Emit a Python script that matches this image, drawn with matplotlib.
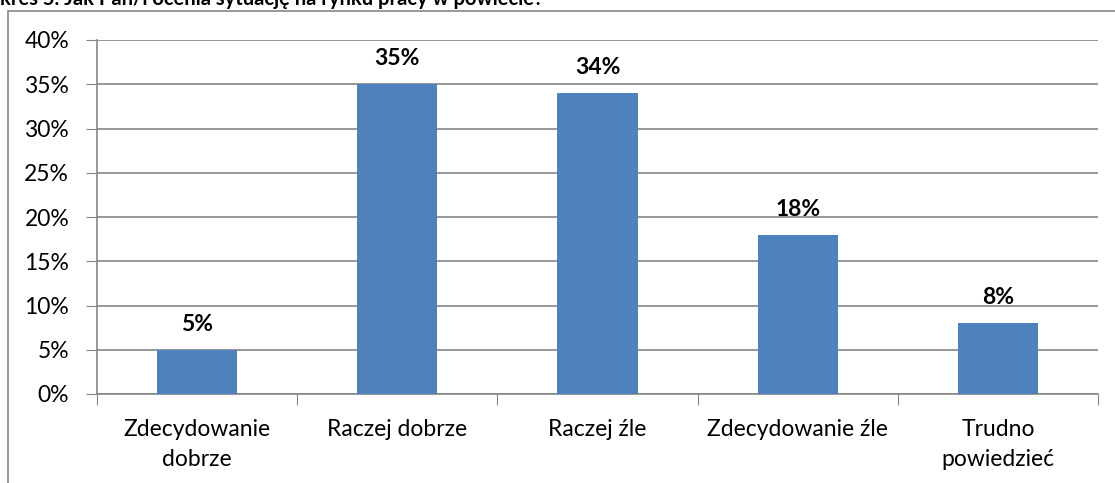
import matplotlib
matplotlib.use("Agg")
import matplotlib.pyplot as plt
from matplotlib.patches import Rectangle
from matplotlib.ticker import MultipleLocator, FuncFormatter

categories = ["Zdecydowanie\ndobrze", "Raczej dobrze", "Raczej źle", "Zdecydowanie źle", "Trudno\npowiedzieć"]
values = [5, 35, 34, 18, 8]
title = "kres 5. Jak Pan/i ocenia sytuację na rynku pracy w powiecie?"

plt.rcParams['font.family'] = ['Lato', 'DejaVu Sans']

W, H = 1115, 483
FS = 16.5
fig = plt.figure(figsize=(W / 100, H / 100), dpi=100)
ax = fig.add_axes([97 / W, 1 - 394 / H, (1098 - 97) / W, (394 - 40) / H])

x = range(len(categories))
ax.bar(x, values, width=0.4, color="#4F81BD", zorder=3)
for xi, v in zip(x, values):
    ax.annotate(f"{v}%", (xi, v), xytext=(0, 19), textcoords="offset pixels",
                ha="center", va="baseline", fontsize=FS, fontweight="bold")

ax.set_xlim(-0.5, len(categories) - 0.5)
ax.set_ylim(0, 40)
ax.yaxis.set_major_locator(MultipleLocator(5))
ax.yaxis.set_major_formatter(FuncFormatter(lambda v, p: f"{int(v)}%"))
ax.grid(axis="y", color="#868686", linewidth=1.2, zorder=0)
ax.set_xticks([i - 0.5 for i in range(len(categories) + 1)])
ax.set_xticklabels([])
ax.set_xticks(list(x), minor=True)
ax.set_xticklabels(categories, minor=True, fontsize=FS, linespacing=1.5)
ax.tick_params(axis="x", which="major", length=8, color="#868686", direction="out")
ax.tick_params(axis="x", which="minor", length=0, pad=18)
ax.tick_params(axis="y", length=8, color="#868686", labelsize=FS, pad=12)
for s in ["top", "right"]:
    ax.spines[s].set_visible(False)
for s in ["left", "bottom"]:
    ax.spines[s].set_color("#868686")
    ax.spines[s].set_linewidth(1.2)

fig.patches.append(Rectangle((8 / W, -0.1), 1.2, 1 - 11 / H + 0.1, transform=fig.transFigure,
                             fill=False, edgecolor="#868686", linewidth=1.2))
fig.text(0, 1 - 5 / H, title, fontsize=14.5, fontweight="bold", ha="left", va="baseline")

fig.savefig("out.png", dpi=100)
